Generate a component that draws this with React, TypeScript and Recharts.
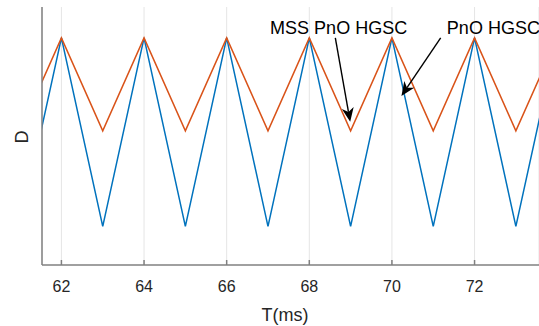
import { LineChart, Line, XAxis, YAxis, CartesianGrid, ReferenceLine, ReferenceDot } from "recharts";

// time axis (ms)
const T = [61, 62, 63, 64, 65, 66, 67, 68, 69, 70, 71, 72, 73, 74];
const PNO_HGSC = [0.15, 0.88, 0.15, 0.88, 0.15, 0.88, 0.15, 0.88, 0.15, 0.88, 0.15, 0.88, 0.15, 0.88];
const MSS_PNO_HGSC = [0.52, 0.88, 0.52, 0.88, 0.52, 0.88, 0.52, 0.88, 0.52, 0.88, 0.52, 0.88, 0.52, 0.88];
const X_TICKS = [62, 64, 66, 68, 70, 72];

const data = T.map((t, i) => ({ t, pno: PNO_HGSC[i], mss: MSS_PNO_HGSC[i] }));

const FONT = "'Liberation Sans', Arial, Helvetica, sans-serif";
const TEXT = "#262626";
const AXIS = "#808080";

function Arrow(p: any) {
  const { x1, y1, x2, y2 } = p;
  const dx = x2 - x1;
  const dy = y2 - y1;
  const len = Math.sqrt(dx * dx + dy * dy);
  const ux = dx / len;
  const uy = dy / len;
  const hl = 14;
  const hw = 6;
  const bx = x2 - ux * hl;
  const by = y2 - uy * hl;
  const pts = `${x2},${y2} ${bx - uy * hw},${by + ux * hw} ${bx + ux * 4},${by + uy * 4} ${bx + uy * hw},${by - ux * hw}`;
  return (
    <g>
      <line x1={x1} y1={y1} x2={bx + ux * 4} y2={by + uy * 4} stroke="#000" strokeWidth={1.4} />
      <polygon points={pts} fill="#000" />
    </g>
  );
}

function note(text: string, anchor: "start" | "middle") {
  return (p: any) => (
    <text x={p.cx} y={p.cy} textAnchor={anchor} fontFamily={FONT} fontSize={18} fill="#000">
      {text}
    </text>
  );
}

export default function App() {
  return (
    <div style={{ position: "absolute", left: 0, top: 0, width: 539, height: 326, background: "#fff" }}>
      <LineChart width={539} height={326} data={data} margin={{ top: 7, right: 0, bottom: 0, left: 0 }}>
        <CartesianGrid horizontal={false} stroke="#e5e5e5" />
        <XAxis
          dataKey="t"
          type="number"
          domain={[61.53, 73.56]}
          allowDataOverflow
          ticks={X_TICKS}
          height={61}
          stroke={AXIS}
          strokeWidth={1.5}
          tickSize={-5}
          tickMargin={21}
          tick={{ fill: TEXT, fontSize: 16, fontFamily: FONT }}
          label={() => (
            <text x={285} y={321} textAnchor="middle" fontFamily={FONT} fontSize={18} fill={TEXT}>
              T(ms)
            </text>
          )}
        />
        <XAxis
          xAxisId="top"
          orientation="top"
          dataKey="t"
          type="number"
          domain={[61.53, 73.56]}
          allowDataOverflow
          ticks={X_TICKS}
          height={0}
          stroke={AXIS}
          strokeWidth={1.5}
          tickSize={-5}
          tick={false}
        />
        <YAxis
          type="number"
          domain={[0, 1]}
          width={42}
          tick={false}
          tickLine={false}
          stroke={AXIS}
          strokeWidth={1.5}
          label={() => (
            <text
              x={28}
              y={137}
              transform="rotate(-90 28 137)"
              textAnchor="middle"
              fontFamily={FONT}
              fontSize={18}
              fill={TEXT}
            >
              D
            </text>
          )}
        />
        <Line dataKey="pno" stroke="#0072BD" strokeWidth={1.5} dot={false} isAnimationActive={false} />
        <Line dataKey="mss" stroke="#D95319" strokeWidth={1.5} dot={false} isAnimationActive={false} />
        <ReferenceLine segment={[{ x: 68.63, y: 0.88 }, { x: 68.99, y: 0.555 }]} shape={Arrow} />
        <ReferenceLine segment={[{ x: 71.18, y: 0.88 }, { x: 70.23, y: 0.655 }]} shape={Arrow} />
        <ReferenceDot x={68.71} y={0.895} r={0} shape={note("MSS PnO HGSC", "middle")} />
        <ReferenceDot x={71.33} y={0.895} r={0} shape={note("PnO HGSC", "start")} />
      </LineChart>
    </div>
  );
}
